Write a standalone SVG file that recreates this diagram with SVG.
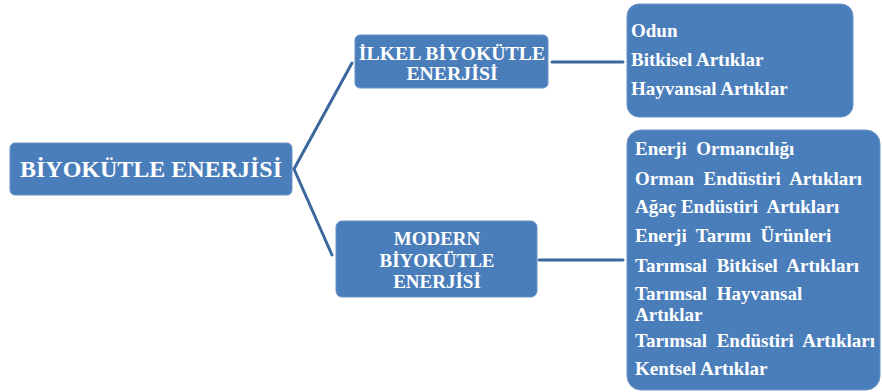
<svg xmlns="http://www.w3.org/2000/svg" width="882" height="392" viewBox="0 0 882 392">
<style>
.box{fill:#4a7ebb;stroke:#6a93c6;stroke-width:1}
.t{font-family:'Liberation Serif','DejaVu Serif',Tinos,'Times New Roman',serif;font-weight:700;fill:#ffffff}
.c{text-anchor:middle}
.conn{stroke:#3a679c;stroke-width:3;fill:none;stroke-linecap:round}
</style>
<rect width="882" height="392" fill="#ffffff"/>
<g id="connectors">
<path class="conn" d="M294,169 L352,63"/>
<path class="conn" d="M294,169 L332,255"/>
<path class="conn" d="M552,62 L623,62"/>
<path class="conn" d="M539,260 L623,260"/>
</g>
<g id="root">
<rect class="box" x="10" y="143" width="282" height="52" rx="5"/>
<text class="t c" x="151" y="177" font-size="24">BİYOKÜTLE ENERJİSİ</text>
</g>
<g id="ilkel">
<rect class="box" x="355" y="35" width="193" height="53" rx="5"/>
<text class="t c" x="452" y="60" font-size="19.8">İLKEL BİYOKÜTLE</text>
<text class="t c" x="452" y="80" font-size="19.8">ENERJİSİ</text>
</g>
<g id="modern">
<rect class="box" x="336" y="221" width="201" height="76" rx="6"/>
<text class="t c" x="437" y="245" font-size="19">MODERN</text>
<text class="t c" x="437" y="267" font-size="19">BİYOKÜTLE</text>
<text class="t c" x="437" y="288" font-size="19">ENERJİSİ</text>
</g>
<g id="ilkel-items">
<rect class="box" x="627" y="4" width="226" height="113" rx="12"/>
<text class="t" x="631" y="37" font-size="19">Odun</text>
<text class="t" x="631" y="66" font-size="19">Bitkisel Artıklar</text>
<text class="t" x="631" y="95" font-size="19">Hayvansal Artıklar</text>
</g>
<g id="modern-items">
<rect class="box" x="627" y="130" width="253" height="260" rx="14"/>
<text class="t" x="635" y="155" font-size="19" xml:space="preserve">Enerji  Ormancılığı</text>
<text class="t" x="635" y="185" font-size="19" xml:space="preserve">Orman  Endüstiri  Artıkları</text>
<text class="t" x="635" y="213" font-size="19" xml:space="preserve">Ağaç Endüstiri  Artıkları</text>
<text class="t" x="635" y="242" font-size="19" xml:space="preserve">Enerji  Tarımı  Ürünleri</text>
<text class="t" x="635" y="272" font-size="19" xml:space="preserve">Tarımsal  Bitkisel  Artıkları</text>
<text class="t" x="635" y="300" font-size="19" xml:space="preserve">Tarımsal  Hayvansal</text>
<text class="t" x="635" y="321" font-size="19">Artıklar</text>
<text class="t" x="635" y="347" font-size="19" xml:space="preserve">Tarımsal  Endüstiri  Artıkları</text>
<text class="t" x="635" y="375" font-size="19">Kentsel Artıklar</text>
</g>
</svg>
